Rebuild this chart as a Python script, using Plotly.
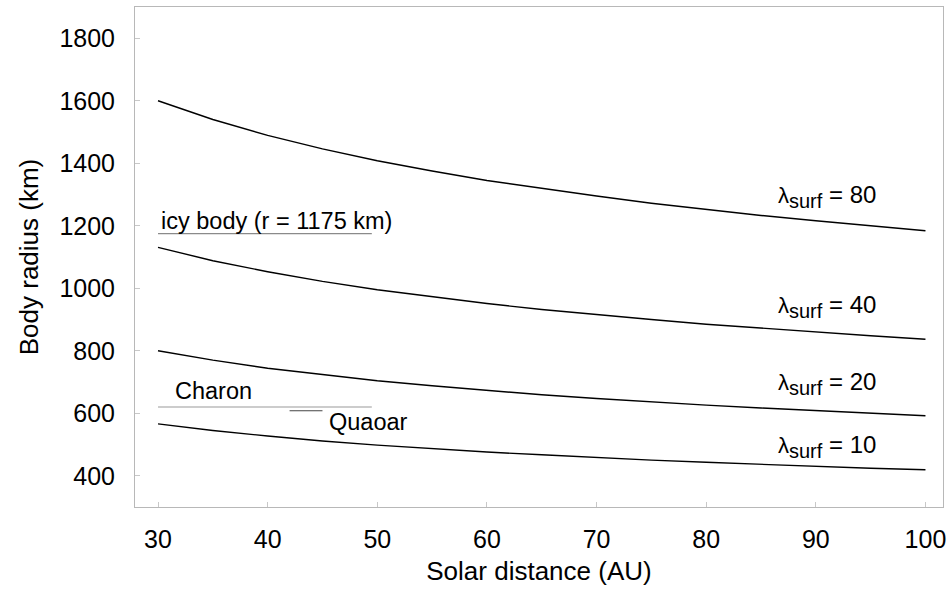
import plotly.graph_objects as go

# Solar distance (AU)
distance = [30, 35, 40, 45, 50, 55, 60, 65, 70, 75, 80, 85, 90, 95, 100]

# Body radius (km)
radius_l80 = [1600, 1540, 1489, 1446, 1408, 1375, 1345, 1319, 1295, 1272, 1252, 1233, 1216, 1199, 1184]
radius_l40 = [1131, 1088, 1053, 1022, 995, 972, 951, 932, 915, 900, 885, 872, 859, 848, 837]
radius_l20 = [800, 770, 744, 723, 704, 688, 673, 659, 647, 636, 626, 617, 608, 600, 592]
radius_l10 = [566, 545, 527, 511, 498, 486, 476, 467, 458, 450, 443, 436, 430, 424, 419]

lam_values = ["80", "40", "20", "10"]
label_y = [1293, 941, 694, 493]

# Reference bodies: name, radius, x-extent
ref_names = ["icy body (r = 1175 km)", "Charon", "Quaoar"]
ref_radius = [1175, 620, 608]
ref_x0 = [30, 30, 42]
ref_x1 = [49.5, 49.5, 45]

x_ticks = [30, 40, 50, 60, 70, 80, 90, 100]
y_ticks = [400, 600, 800, 1000, 1200, 1400, 1600, 1800]

FONT = "Liberation Sans, Arial, Helvetica, sans-serif"
ANN = 23.5

fig = go.Figure()

for ys in [radius_l80, radius_l40, radius_l20, radius_l10]:
    fig.add_trace(go.Scatter(x=distance, y=ys, mode="lines",
                             line=dict(color="black", width=1.4),
                             showlegend=False, hoverinfo="skip"))

ref_colors = ["#8a8a8a", "#9a9a9a", "#444444"]
for r, x0, x1, c in zip(ref_radius, ref_x0, ref_x1, ref_colors):
    fig.add_trace(go.Scatter(x=[x0, x1], y=[r, r], mode="lines",
                             line=dict(color=c, width=1.2),
                             showlegend=False, hoverinfo="skip"))

for v, yy in zip(lam_values, label_y):
    txt = ("<span style='font-size:22px'>λ</span>"
           "<sub><span style='font-size:20px'>surf</span></sub> = " + v)
    fig.add_annotation(x=86.4, y=yy, text=txt, showarrow=False,
                       xanchor="left", yanchor="middle",
                       font=dict(family=FONT, size=24, color="black"))

# reference body labels
fig.add_annotation(x=30.1, y=1175, text=ref_names[0], showarrow=False,
                   xanchor="left", yanchor="bottom", yshift=-2,
                   font=dict(family=FONT, size=ANN, color="black"))
fig.add_annotation(x=31.4, y=620, text=ref_names[1], showarrow=False,
                   xanchor="left", yanchor="bottom", yshift=1,
                   font=dict(family=FONT, size=ANN, color="black"))
fig.add_annotation(x=45.4, y=608, text=ref_names[2], showarrow=False,
                   xanchor="left", yanchor="top", yshift=4,
                   font=dict(family=FONT, size=ANN, color="black"))

axis_common = dict(showgrid=False, zeroline=False, showline=True, mirror=True,
                   linecolor="#b8b8b8", linewidth=1, automargin=False,
                   ticks="inside", ticklen=5, tickcolor="#c8c8c8", tickwidth=1,
                   tickfont=dict(family=FONT, size=25, color="black"))

fig.update_xaxes(range=[27.9, 101.6], tickvals=x_ticks, ticklabelstandoff=10,
                 title=dict(text="Solar distance (AU)", standoff=9,
                            font=dict(family=FONT, size=26, color="black")),
                 **axis_common)
fig.update_yaxes(range=[300, 1900], tickvals=y_ticks, ticklabelstandoff=14,
                 title=dict(text="Body radius (km)", standoff=13,
                            font=dict(family=FONT, size=26, color="black")),
                 **axis_common)

fig.update_layout(width=952, height=590,
                  margin=dict(l=135, r=9, t=7, b=83),
                  paper_bgcolor="white", plot_bgcolor="white",
                  font=dict(family=FONT, size=23, color="black"))

fig.write_html("out.html", config={"displayModeBar": False},
               post_script="document.body.style.margin='0';")
